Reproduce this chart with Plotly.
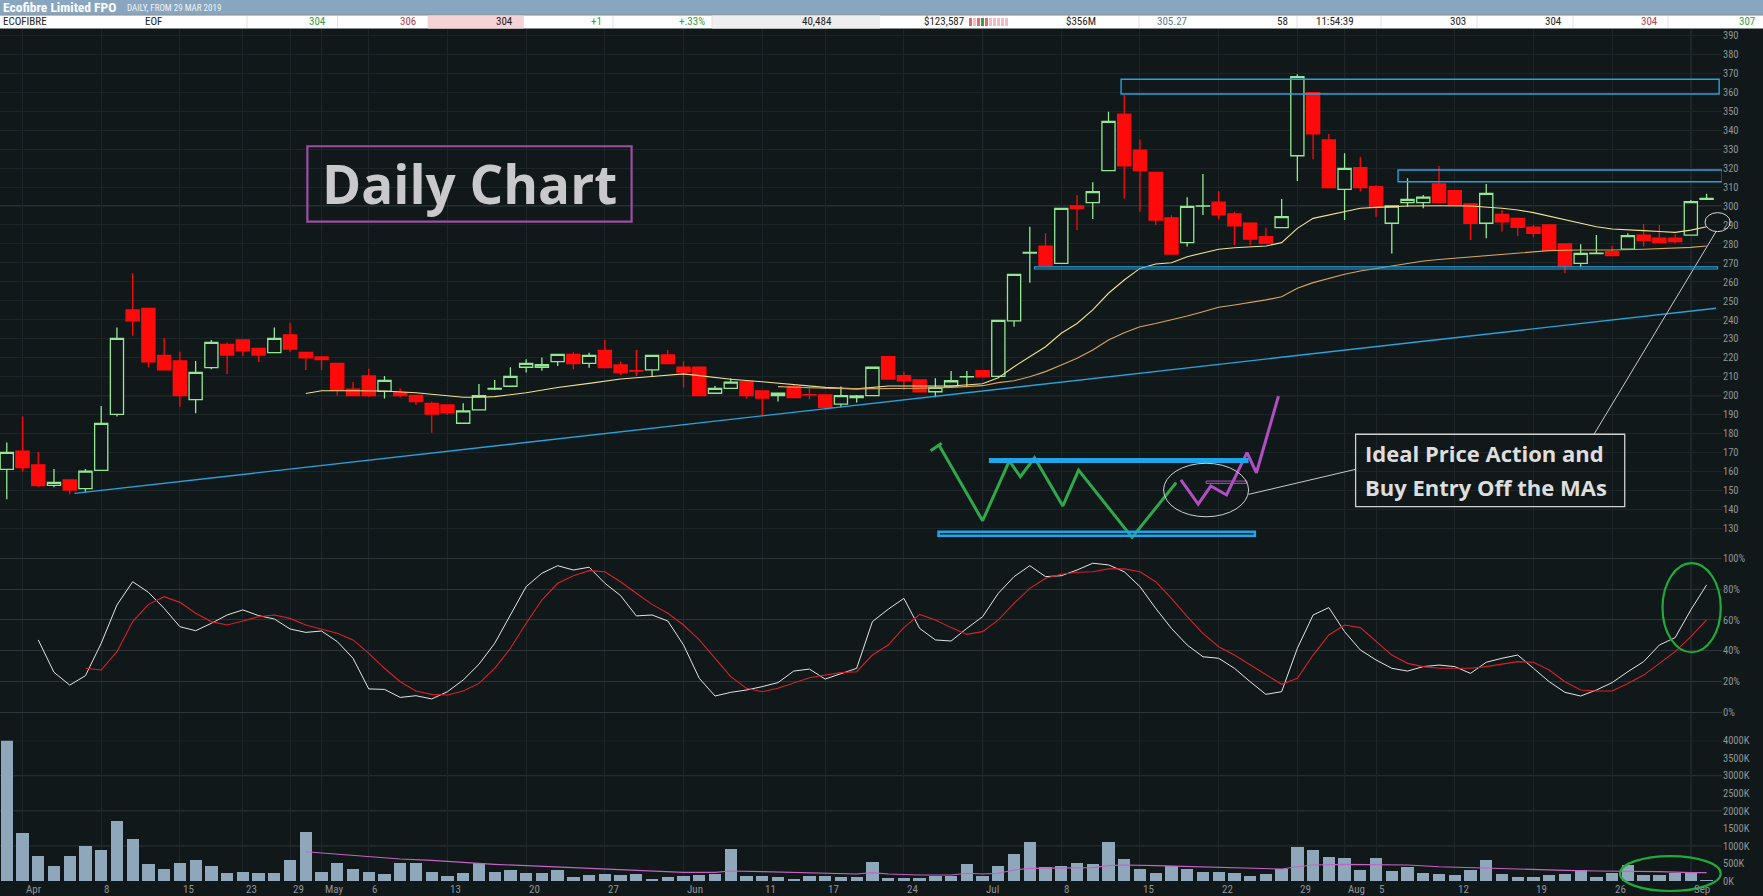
import plotly.graph_objects as go

# ---------------- data ----------------
# trading-day index 0 = 29 Mar 2019, 108 = 3 Sep 2019
day = list(range(109))

opens = [161.2, 170.8, 163.5, 152.7, 155.6, 151.0, 160.6, 190.2, 245.2, 246.0,
         221.3, 218.3, 197.9, 214.8, 227.1, 229.4, 225.0, 222.7, 232.0, 222.9,
         220.4, 217.1, 203.5, 210.4, 202.3, 201.6, 200.2, 196.0, 195.1, 185.5,
         192.5, 203.5, 205.0, 215.0, 215.0, 218.0, 221.8, 217.1, 223.9, 216.2,
         213.2, 213.6, 221.5, 215.0, 215.1, 201.3, 203.9, 207.4, 202.5, 200.0,
         204.8, 200.5, 200.4, 195.6, 199.0, 200.0, 220.6, 210.6, 208.3, 202.1,
         205.1, 210.0, 213.2, 210.2, 239.5, 275.2, 278.9, 269.8, 300.0, 301.8,
         318.6, 348.4, 329.5, 317.7, 293.7, 280.7, 299.9, 302.0, 295.8, 291.0,
         283.8, 288.6, 326.5, 359.7, 334.8, 308.8, 320.2, 310.2, 290.9, 301.8,
         301.8, 311.6, 308.1, 301.1, 290.9, 295.6, 293.5, 288.8, 290.0, 280.0,
         269.8, 274.9, 275.9, 277.3, 284.7, 283.0, 283.0, 284.7, 303.5]
highs = [175.4, 189.0, 170.5, 161.4, 155.9, 161.4, 194.6, 236.0, 264.5, 246.0,
         230.4, 223.2, 218.3, 229.4, 228.1, 229.4, 225.0, 236.0, 238.5, 222.9,
         220.4, 217.1, 207.2, 214.2, 210.4, 203.9, 200.2, 197.0, 195.1, 196.0,
         206.2, 208.3, 215.0, 219.2, 220.1, 221.8, 222.9, 222.7, 229.4, 218.0,
         224.1, 221.3, 224.1, 218.0, 215.1, 205.1, 209.2, 207.4, 202.5, 201.3,
         205.7, 203.9, 200.4, 204.8, 200.4, 215.0, 220.6, 212.7, 208.3, 209.2,
         213.0, 213.0, 213.2, 239.7, 264.0, 289.1, 285.6, 298.8, 305.8, 312.5,
         349.7, 358.5, 335.1, 317.7, 295.1, 304.6, 316.9, 307.9, 297.0, 291.0,
         288.6, 303.7, 369.4, 359.7, 338.0, 327.8, 326.0, 311.1, 300.0, 314.6,
         305.8, 321.1, 308.1, 301.1, 311.6, 297.9, 293.5, 290.0, 290.0, 280.0,
         279.8, 284.7, 278.9, 285.6, 290.5, 290.0, 285.1, 303.2, 306.5]
lows = [145.4, 160.0, 152.0, 151.7, 148.0, 149.1, 160.6, 189.0, 231.6, 215.0,
        213.7, 194.2, 190.7, 213.9, 211.4, 220.9, 217.8, 222.7, 223.2, 213.5,
        213.5, 200.0, 200.0, 199.5, 198.6, 199.0, 195.1, 180.5, 189.8, 185.5,
        192.5, 203.0, 205.0, 212.2, 213.2, 215.7, 213.9, 214.8, 214.8, 210.9,
        210.4, 210.4, 216.9, 204.3, 200.0, 201.3, 203.9, 198.6, 189.8, 196.9,
        199.0, 198.1, 192.8, 193.9, 196.4, 200.0, 208.8, 203.0, 202.1, 199.2,
        205.1, 204.4, 210.0, 210.0, 236.4, 259.6, 268.0, 269.8, 287.3, 293.2,
        318.6, 304.0, 297.0, 290.0, 274.7, 278.6, 295.3, 293.0, 279.4, 279.4,
        280.3, 288.6, 313.2, 324.6, 309.7, 292.6, 307.6, 294.4, 275.0, 299.6,
        298.8, 301.8, 300.0, 282.1, 283.0, 286.5, 284.2, 283.5, 276.8, 264.5,
        267.7, 274.9, 273.8, 277.3, 278.6, 280.7, 280.3, 284.7, 303.5]
closes = [170.1, 162.1, 152.6, 154.3, 150.3, 160.3, 185.4, 230.2, 239.5, 217.8,
          213.7, 200.0, 212.3, 228.1, 221.4, 223.7, 221.4, 230.2, 224.6, 220.0,
          219.0, 203.0, 200.0, 200.0, 208.1, 200.0, 196.9, 190.3, 191.0, 192.0,
          200.0, 203.9, 210.2, 217.1, 216.4, 221.8, 216.9, 221.3, 214.8, 212.2,
          213.0, 221.3, 216.9, 212.5, 200.0, 203.9, 207.2, 200.0, 198.8, 201.3,
          199.0, 200.4, 193.9, 200.0, 199.9, 215.0, 208.8, 207.9, 202.1, 204.4,
          207.9, 210.1, 210.0, 239.7, 264.0, 275.6, 268.6, 298.8, 298.8, 307.6,
          344.6, 321.1, 318.6, 292.6, 274.7, 299.8, 300.1, 295.4, 289.6, 282.6,
          280.3, 294.4, 368.2, 338.0, 309.7, 319.8, 309.7, 299.6, 300.0, 303.5,
          304.7, 301.8, 300.5, 290.9, 306.7, 291.7, 288.8, 285.6, 276.8, 268.5,
          275.0, 275.1, 273.8, 284.4, 281.7, 280.7, 281.2, 302.3, 304.0]

ma20_day = [19, 20, 22, 24, 26, 28, 29, 30, 31, 33, 35, 37, 39, 41, 43, 44, 46, 48, 50,
            52, 54, 56, 58, 60, 62, 63, 64, 65, 66, 67, 68, 69, 70, 71, 72, 73, 74,
            75, 76, 77, 78, 79, 80, 81, 82, 83, 84, 85, 86, 87, 88, 89, 91, 93, 95,
            96, 97, 98, 99, 100, 101, 102, 103, 104, 105, 106, 107, 108]
ma20 = [201.2, 202.6, 202.6, 202.5, 201.6, 200.0, 199.2, 199.2, 199.5, 201.6, 204.3,
        206.5, 208.8, 210.1, 211.5, 210.6, 208.7, 207.4, 205.8, 204.4, 203.6, 205.1,
        205.1, 205.1, 206.3, 209.5, 215.3, 220.6, 225.8, 232.9, 238.1, 245.2, 254.0,
        261.0, 267.1, 269.4, 270.1, 273.3, 275.4, 277.2, 278.0, 278.6, 278.9, 280.7,
        288.2, 293.5, 295.3, 297.0, 298.8, 299.3, 299.6, 300.0, 300.1, 300.0, 298.8,
        297.9, 296.5, 294.7, 292.6, 290.9, 289.1, 287.9, 287.3, 287.0, 286.6, 286.1,
        287.3, 289.1]

ma50_day = [49, 50, 52, 54, 56, 58, 60, 62, 63, 64, 65, 66, 67, 68, 69, 70, 71, 72, 73,
            74, 75, 76, 77, 78, 79, 80, 81, 82, 83, 84, 85, 86, 87, 88, 89, 90, 91, 92,
            93, 94, 96, 98, 100, 102, 104, 106, 107, 108]
ma50 = [204.8, 204.4, 203.9, 203.6, 203.7, 203.9, 204.4, 205.3, 206.9, 207.9, 210.0,
        212.7, 216.2, 219.7, 224.1, 229.4, 233.2, 236.4, 238.1, 239.9, 242.0, 244.3,
        246.6, 247.8, 249.0, 250.5, 252.2, 256.6, 259.6, 261.9, 264.0, 265.7, 267.1,
        268.4, 269.8, 271.0, 271.8, 272.5, 273.0, 274.0, 275.4, 276.5, 276.8, 276.8,
        277.2, 277.7, 278.2, 278.9]

stoch_k_day = list(range(2, 109))
stoch_k = [47.0, 26.0, 17.7, 23.8, 44.8, 69.7, 84.8, 77.9, 67.5, 55.6, 53.0, 57.8,
           63.2, 66.5, 62.8, 60.6, 54.1, 51.9, 52.8, 45.9, 35.1, 15.2, 14.9, 9.7,
           10.8, 8.7, 13.4, 21.0, 31.2, 44.8, 63.2, 81.6, 90.3, 95.2, 92.4, 94.2,
           83.8, 75.8, 62.6, 63.2, 59.3, 43.7, 22.1, 10.6, 13.0, 14.5, 16.7, 19.3,
           26.8, 28.1, 21.6, 25.3, 28.6, 58.9, 66.9, 74.0, 54.5, 47.0, 46.3, 54.5,
           62.1, 77.3, 88.1, 95.2, 88.1, 88.7, 92.4, 96.8, 95.7, 91.3, 81.6, 67.5,
           54.5, 43.7, 36.1, 35.1, 28.6, 19.9, 11.7, 13.4, 41.6, 63.2, 68.0, 52.4,
           40.5, 34.0, 28.6, 26.8, 29.7, 30.7, 29.7, 25.3, 32.5, 35.1, 37.2, 28.6,
           19.9, 13.0, 10.6, 14.5, 19.3, 26.4, 32.9, 43.7, 48.5, 66.5, 82.7]
stoch_d_day = list(range(5, 109))
stoch_d = [28.6, 27.5, 39.4, 58.9, 70.1, 75.1, 71.4, 64.3, 58.9, 56.7, 59.3, 62.1,
           63.2, 61.0, 56.7, 54.1, 51.3, 47.0, 38.3, 28.6, 19.9, 13.9, 11.7, 11.3,
           13.9, 18.8, 28.6, 41.6, 57.8, 72.9, 83.8, 88.7, 92.0, 91.3, 84.8, 77.3,
           70.1, 64.3, 56.7, 47.0, 35.1, 23.2, 15.6, 13.4, 15.6, 18.8, 22.5, 24.2,
           25.8, 26.4, 37.2, 43.7, 55.0, 63.6, 60.0, 55.0, 50.6, 52.4, 60.0, 70.8,
           80.5, 87.0, 89.6, 90.9, 91.3, 93.1, 93.1, 91.3, 84.8, 74.0, 62.1, 51.3,
           42.6, 37.2, 30.7, 24.2, 18.2, 22.1, 37.2, 50.2, 56.7, 55.0, 45.9, 37.2,
           31.8, 29.7, 28.6, 28.6, 28.6, 29.7, 31.2, 32.9, 32.5, 27.5, 19.9, 14.5,
           13.9, 13.9, 18.8, 24.2, 31.8, 39.4, 49.1, 60.0]

volume_k = [4300, 1378, 713, 428, 713, 1007, 893, 1720, 1197, 485,
            352, 513, 608, 428, 228, 257, 228, 228, 608, 1406,
            257, 513, 352, 257, 200, 513, 513, 257, 143, 228,
            513, 257, 323, 228, 228, 323, 114, 171, 200, 171,
            200, 57, 114, 143, 171, 200, 912, 143, 143, 114,
            57, 143, 143, 114, 114, 542, 95, 95, 95, 152,
            152, 485, 152, 428, 770, 1112, 399, 428, 513, 485,
            1112, 627, 352, 228, 428, 352, 257, 257, 228, 143,
            200, 352, 969, 893, 684, 656, 323, 656, 285, 399,
            228, 200, 171, 323, 608, 200, 114, 114, 171, 200,
            323, 114, 228, 456, 171, 171, 228, 228, 45]
vol_ma_day = [19, 21, 23, 25, 27, 29, 31, 33, 35, 37, 39, 41, 43, 45, 46, 48, 50, 52,
              54, 55, 56, 58, 60, 61, 62, 63, 64, 65, 67, 69, 70, 71, 73, 75, 77, 79,
              81, 82, 83, 85, 87, 89, 91, 93, 95, 97, 99, 101, 103, 105, 107, 108]
vol_ma_k = [836, 770, 694, 627, 589, 523, 475, 437, 399, 352, 314, 276, 247, 247, 285,
            266, 238, 219, 200, 238, 200, 171, 171, 219, 200, 219, 314, 361, 361, 380,
            437, 456, 437, 418, 399, 361, 342, 408, 456, 475, 475, 456, 408, 380, 361,
            314, 304, 285, 285, 266, 238, 238]

date_labels = ["Apr", "8", "15", "23", "29", "May", "6", "13", "20", "27", "Jun", "11",
               "17", "24", "Jul", "8", "15", "22", "29", "Aug", "5", "12", "19", "26", "Sep"]
date_label_day = [1, 6, 11, 15, 18, 20, 23, 28, 33, 38, 43, 48, 52, 57, 62, 67, 72, 77,
                  82, 85, 87, 92, 97, 102, 107]
month_day = [1, 20, 43, 62, 85, 107]

price_ticks = list(range(130, 400, 10))
price_major = [200, 300]
stoch_ticks = [0, 20, 40, 60, 80, 100]
vol_ticks_k = list(range(0, 4001, 500))
vol_grid_k = [1000, 2000, 3000, 4000]

# hand-drawn annotations (day index, price)
trend_day = [4.3, 108.6]
trend_price = [148.5, 246.1]
zone_hi = dict(d0=70.8, d1=108.8, p0=359.0, p1=366.8)
zone_mid = dict(d0=88.4, d1=109.0, p0=312.8, p1=319.0)
support = dict(d0=65.3, d1=108.7, p0=266.8, p1=267.9)

sketch_green_day = [59.2, 62.0, 63.7, 64.4, 65.3, 67.1, 68.1, 71.5, 74.3]
sketch_green_price = [174.4, 134.1, 165.6, 157.3, 167.3, 141.9, 160.8, 125.3, 154.2]
sketch_cap_day = [58.7, 59.4]
sketch_cap_price = [171.0, 175.0]
sketch_purple_day = [74.6, 75.7, 76.5, 77.5, 78.8, 79.4, 80.8]
sketch_purple_price = [155.6, 142.9, 152.4, 147.7, 170.0, 159.4, 199.8]
sketch_top = dict(d0=62.4, d1=78.9, p=165.9)
sketch_bottom = dict(d0=59.2, d1=79.3, p0=126.2, p1=128.3)
sketch_pullback = dict(d0=76.2, d1=78.8, p0=153.8, p1=155.0)
sketch_circle = dict(d0=73.5, d1=78.9, p0=136.2, p1=164.4)

note_box = dict(d0=85.7, d1=102.8, p0=141.5, p1=179.7)
note_lines = ["Ideal Price Action and", "Buy Entry Off the MAs"]
note_line_price = [169.6, 151.7]
note_link_day = [78.9, 85.7]
note_link_price = [148.0, 161.2]
pointer_day = [100.85, 108.6]
pointer_price = [179.7, 286.5]
entry_circle = dict(d0=107.9, d1=109.5, p0=286.5, p1=296.5)
title_box = dict(d0=19.1, d1=39.7, p0=291.8, p1=331.5)

stoch_circle = dict(d0=105.2, d1=108.9, v0=39.0, v1=96.8)
vol_circle = dict(d0=102.5, d1=108.9, v0=-285, v1=712)

quote_values = ["ECOFIBRE", "EOF", "304", "306", "304", "+1", "+.33%", "40,484",
                "$123,587", "$356M", "305.27", "58", "11:54:39", "303", "304", "304", "307"]
spark_colors = ["#e06a78", "#f3bcc4", "#e06a78", "#3d9b45", "#e06a78",
                "#f3bcc4", "#f3bcc4", "#f3bcc4", "#f3bcc4", "#f3bcc4"]

# ---------------- layout constants ----------------
W, H = 1763, 896
BG = "#111819"
UP = "#93e993"
DOWN = "#ff0a0a"
GRID_FAINT = "#1d2528"
GRID_MID = "#2d3538"
GRID_BRIGHT = "#3a4346"
LABEL = "#8e9598"
NARROW = "Liberation Sans Narrow, Roboto Condensed, Roboto, sans-serif"

X_RANGE = [-0.43, 108.98]
P_RANGE = [115.2, 393.3]
S_RANGE = [-18.4, 101.1]
V_RANGE = [0, 4000]


def fx(px):
    return px / W


def fy(py):
    return 1 - py / H


def xd(v):
    return (v - X_RANGE[0]) / (X_RANGE[1] - X_RANGE[0])


def yd(v, rng):
    return (v - rng[0]) / (rng[1] - rng[0])


fig = go.Figure()

fig.add_trace(go.Candlestick(
    x=day, open=opens, high=highs, low=lows, close=closes,
    increasing=dict(line=dict(color=UP, width=1.3), fillcolor=BG),
    decreasing=dict(line=dict(color=DOWN, width=1.3), fillcolor=DOWN),
    whiskerwidth=0, hoverinfo="skip", showlegend=False,
))
fig.add_trace(go.Scatter(x=ma20_day, y=ma20, mode="lines",
                         line=dict(color="#efe190", width=1.1), hoverinfo="skip"))
fig.add_trace(go.Scatter(x=ma50_day, y=ma50, mode="lines",
                         line=dict(color="#d9a45c", width=1.1), hoverinfo="skip"))
fig.add_trace(go.Scatter(x=trend_day, y=trend_price, mode="lines",
                         line=dict(color="#2aa0dc", width=1.4), hoverinfo="skip"))

# sketched pattern
fig.add_trace(go.Scatter(x=sketch_green_day, y=sketch_green_price, mode="lines",
                         line=dict(color="#2fa84c", width=3), hoverinfo="skip"))
fig.add_trace(go.Scatter(x=sketch_cap_day, y=sketch_cap_price, mode="lines",
                         line=dict(color="#2fa84c", width=3), hoverinfo="skip"))
fig.add_trace(go.Scatter(x=sketch_purple_day, y=sketch_purple_price, mode="lines",
                         line=dict(color="#b14fc2", width=3), hoverinfo="skip"))
fig.add_trace(go.Scatter(x=note_link_day, y=note_link_price, mode="lines",
                         line=dict(color="#c9c9c9", width=1), hoverinfo="skip"))
fig.add_trace(go.Scatter(x=pointer_day, y=pointer_price, mode="lines",
                         line=dict(color="#c9c9c9", width=1), hoverinfo="skip"))

# stochastic
fig.add_trace(go.Scatter(x=stoch_k_day, y=stoch_k, yaxis="y2", mode="lines",
                         line=dict(color="#e4e4e4", width=1), hoverinfo="skip"))
fig.add_trace(go.Scatter(x=stoch_d_day, y=stoch_d, yaxis="y2", mode="lines",
                         line=dict(color="#d8202c", width=1.1), hoverinfo="skip"))

# volume
fig.add_trace(go.Bar(x=day, y=volume_k, yaxis="y3", width=0.78,
                     marker=dict(color="#8ea7ba", line=dict(width=0)), hoverinfo="skip"))
fig.add_trace(go.Scatter(x=vol_ma_day, y=vol_ma_k, yaxis="y3", mode="lines",
                         line=dict(color="#c563c5", width=1.1), hoverinfo="skip"))

shapes = []
for d in month_day:
    shapes.append(dict(type="line", xref="x", yref="paper", x0=d, x1=d,
                       y0=fy(881), y1=fy(29), line=dict(color=GRID_BRIGHT, width=1),
                       layer="below"))
for p in price_major:
    shapes.append(dict(type="line", xref="paper", yref="y", x0=0, x1=fx(1722),
                       y0=p, y1=p, line=dict(color=GRID_BRIGHT, width=1), layer="below"))
for v in vol_grid_k:
    shapes.append(dict(type="line", xref="paper", yref="y3", x0=0, x1=fx(1722),
                       y0=v, y1=v, line=dict(color=GRID_MID, width=1), layer="below"))

BLUE = "#2aa0dc"
for z in (zone_hi, zone_mid):
    shapes.append(dict(type="rect", xref="x", yref="y", x0=z["d0"], x1=z["d1"],
                       y0=z["p0"], y1=z["p1"], line=dict(color=BLUE, width=1.4)))
shapes.append(dict(type="rect", xref="x", yref="y", x0=support["d0"], x1=support["d1"],
                   y0=support["p0"], y1=support["p1"], line=dict(color=BLUE, width=1.2)))
shapes.append(dict(type="line", xref="x", yref="y", x0=sketch_top["d0"], x1=sketch_top["d1"],
                   y0=sketch_top["p"], y1=sketch_top["p"], line=dict(color="#1ea6ea", width=5)))
shapes.append(dict(type="rect", xref="x", yref="y", x0=sketch_bottom["d0"],
                   x1=sketch_bottom["d1"], y0=sketch_bottom["p0"], y1=sketch_bottom["p1"],
                   line=dict(color="#1ea6ea", width=2.5)))
shapes.append(dict(type="rect", xref="x", yref="y", x0=sketch_pullback["d0"],
                   x1=sketch_pullback["d1"], y0=sketch_pullback["p0"],
                   y1=sketch_pullback["p1"], line=dict(color="#b14fc2", width=1)))
shapes.append(dict(type="circle", xref="x", yref="y", x0=sketch_circle["d0"],
                   x1=sketch_circle["d1"], y0=sketch_circle["p0"], y1=sketch_circle["p1"],
                   line=dict(color="#d0d0d0", width=1)))
shapes.append(dict(type="rect", xref="x", yref="y", x0=note_box["d0"], x1=note_box["d1"],
                   y0=note_box["p0"], y1=note_box["p1"], line=dict(color="#cfcfcf", width=1.3)))
shapes.append(dict(type="rect", xref="x", yref="y", x0=title_box["d0"], x1=title_box["d1"],
                   y0=title_box["p0"], y1=title_box["p1"], line=dict(color="#9c4fa3", width=2.2)))
# circles that spill over the plot edge: domain references are not clipped
shapes.append(dict(type="circle", xref="x domain", yref="y domain",
                   x0=xd(entry_circle["d0"]), x1=xd(entry_circle["d1"]),
                   y0=yd(entry_circle["p0"], P_RANGE), y1=yd(entry_circle["p1"], P_RANGE),
                   line=dict(color="#d8d8d8", width=1)))
shapes.append(dict(type="circle", xref="x domain", yref="y2 domain",
                   x0=xd(stoch_circle["d0"]), x1=xd(stoch_circle["d1"]),
                   y0=yd(stoch_circle["v0"], S_RANGE), y1=yd(stoch_circle["v1"], S_RANGE),
                   line=dict(color="#1faa3c", width=2.2)))
shapes.append(dict(type="circle", xref="x domain", yref="y3 domain",
                   x0=xd(vol_circle["d0"]), x1=xd(vol_circle["d1"]),
                   y0=yd(vol_circle["v0"], V_RANGE), y1=yd(vol_circle["v1"], V_RANGE),
                   line=dict(color="#1faa3c", width=2.2)))

# header bars
shapes.append(dict(type="rect", xref="paper", yref="paper", x0=0, x1=1, y0=fy(14.5), y1=1,
                   fillcolor="#88a6bf", line=dict(width=0), layer="above"))
shapes.append(dict(type="rect", xref="paper", yref="paper", x0=0, x1=1, y0=fy(28.5),
                   y1=fy(14.5), fillcolor="#ffffff", line=dict(width=0), layer="above"))
shapes.append(dict(type="line", xref="paper", yref="paper", x0=0, x1=1, y0=fy(15),
                   y1=fy(15), line=dict(color="#6d8799", width=1.2), layer="above"))
shapes.append(dict(type="rect", xref="paper", yref="paper", x0=fx(428), x1=fx(523.5),
                   y0=fy(28.5), y1=fy(15.5), fillcolor="#f5d3d7", line=dict(width=0),
                   layer="above"))
shapes.append(dict(type="rect", xref="paper", yref="paper", x0=fx(712), x1=fx(880),
                   y0=fy(28.5), y1=fy(15.5), fillcolor="#eeeeee", line=dict(width=0),
                   layer="above"))
for sx in [247, 337.5, 428, 523.5, 613, 712, 983, 1139, 1297, 1381, 1477, 1573, 1668]:
    shapes.append(dict(type="line", xref="paper", yref="paper", x0=fx(sx), x1=fx(sx),
                       y0=fy(28), y1=fy(16), line=dict(color="#e2e2e2", width=1),
                       layer="above"))
for i, c in enumerate(spark_colors):
    shapes.append(dict(type="rect", xref="paper", yref="paper", x0=fx(969 + 4 * i),
                       x1=fx(972 + 4 * i), y0=fy(26), y1=fy(18), fillcolor=c,
                       line=dict(width=0), layer="above"))

annotations = []
for lab, d in zip(date_labels, date_label_day):
    annotations.append(dict(x=d, y=fy(889), xref="x", yref="paper", text=lab,
                            showarrow=False, xanchor="left", yanchor="middle", xshift=1,
                            font=dict(family=NARROW, size=11, color=LABEL)))
annotations.append(dict(x=(title_box["d0"] + title_box["d1"]) / 2,
                        y=(title_box["p0"] + title_box["p1"]) / 2, xref="x", yref="y",
                        text="<b>Daily Chart</b>", showarrow=False,
                        xanchor="center", yanchor="middle",
                        font=dict(family="Open Sans", size=53, color="#c9c9cc")))
for txt, p in zip(note_lines, note_line_price):
    annotations.append(dict(x=note_box["d0"] + 0.5, y=p, xref="x", yref="y",
                            text="<b>" + txt + "</b>", showarrow=False, xanchor="left",
                            yanchor="middle",
                            font=dict(family="Open Sans", size=22, color="#dedede")))

annotations.append(dict(x=fx(1), y=fy(7.5), xref="paper", yref="paper",
                        text="<b>Ecofibre Limited FPO</b>", showarrow=False, xanchor="left",
                        yanchor="middle",
                        font=dict(family=NARROW, size=13.5, color="#ffffff")))
annotations.append(dict(x=fx(125), y=fy(8), xref="paper", yref="paper",
                        text="DAILY, FROM 29 MAR 2019", showarrow=False, xanchor="left",
                        yanchor="middle",
                        font=dict(family=NARROW, size=9, color="#eef2f6")))

GREEN_TXT = "#3d9b45"
RED_TXT = "#b8414f"
quote_cells = [  # (edge px, anchor, colour)
    (1, "left", "#222222"), (143, "left", "#222222"), (328, "right", GREEN_TXT),
    (418, "right", RED_TXT), (515, "right", "#222222"), (604, "right", GREEN_TXT),
    (707, "right", GREEN_TXT), (834, "right", "#222222"), (966, "right", "#222222"),
    (1098, "right", "#222222"), (1189, "right", "#5b7b92"), (1290, "right", "#222222"),
    (1356, "right", "#222222"), (1468, "right", "#222222"), (1564, "right", "#222222"),
    (1660, "right", RED_TXT), (1757, "right", GREEN_TXT),
]
for txt, (px, anc, col) in zip(quote_values, quote_cells):
    annotations.append(dict(x=fx(px), y=fy(22), xref="paper", yref="paper", text=txt,
                            showarrow=False, xanchor=anc, yanchor="middle",
                            font=dict(family=NARROW, size=11, color=col)))

axis_font = dict(family=NARROW, size=10.5, color=LABEL)
fig.update_layout(
    width=W, height=H, margin=dict(l=0, r=0, t=0, b=0),
    paper_bgcolor=BG, plot_bgcolor=BG, showlegend=False, template="none",
    boxgap=0.12, boxgroupgap=0.05, bargap=0,
    xaxis=dict(domain=[0, fx(1722)], range=X_RANGE, tickvals=date_label_day,
               showticklabels=False, showgrid=True, gridcolor=GRID_FAINT, gridwidth=1,
               zeroline=False, showline=False, ticks="", rangeslider=dict(visible=False),
               anchor="y3", fixedrange=True),
    yaxis=dict(domain=[fy(556.6), fy(29)], range=P_RANGE, side="right", anchor="x",
               tickvals=price_ticks, showgrid=True, gridcolor=GRID_FAINT, zeroline=False,
               showline=False, ticks="", tickfont=axis_font, fixedrange=True,
               ticklabeloverflow="allow"),
    yaxis2=dict(domain=[fy(740.7), fy(556.6)], range=S_RANGE, side="right", anchor="x",
                tickvals=stoch_ticks, ticktext=[f"{v}%" for v in stoch_ticks],
                showgrid=True, gridcolor=GRID_MID, zeroline=False, showline=False,
                ticks="", tickfont=axis_font, fixedrange=True, ticklabeloverflow="allow"),
    yaxis3=dict(domain=[fy(881), fy(740.7)], range=V_RANGE, side="right", anchor="x",
                tickvals=vol_ticks_k, ticktext=[f"{v}K" for v in vol_ticks_k],
                showgrid=False, zeroline=False, showline=False, ticks="",
                tickfont=axis_font, fixedrange=True, ticklabeloverflow="allow"),
    shapes=shapes, annotations=annotations,
)

fig.write_html("out.html", config={"displayModeBar": False},
               post_script="document.body.style.margin='0';"
                           "document.body.style.overflow='hidden';")
